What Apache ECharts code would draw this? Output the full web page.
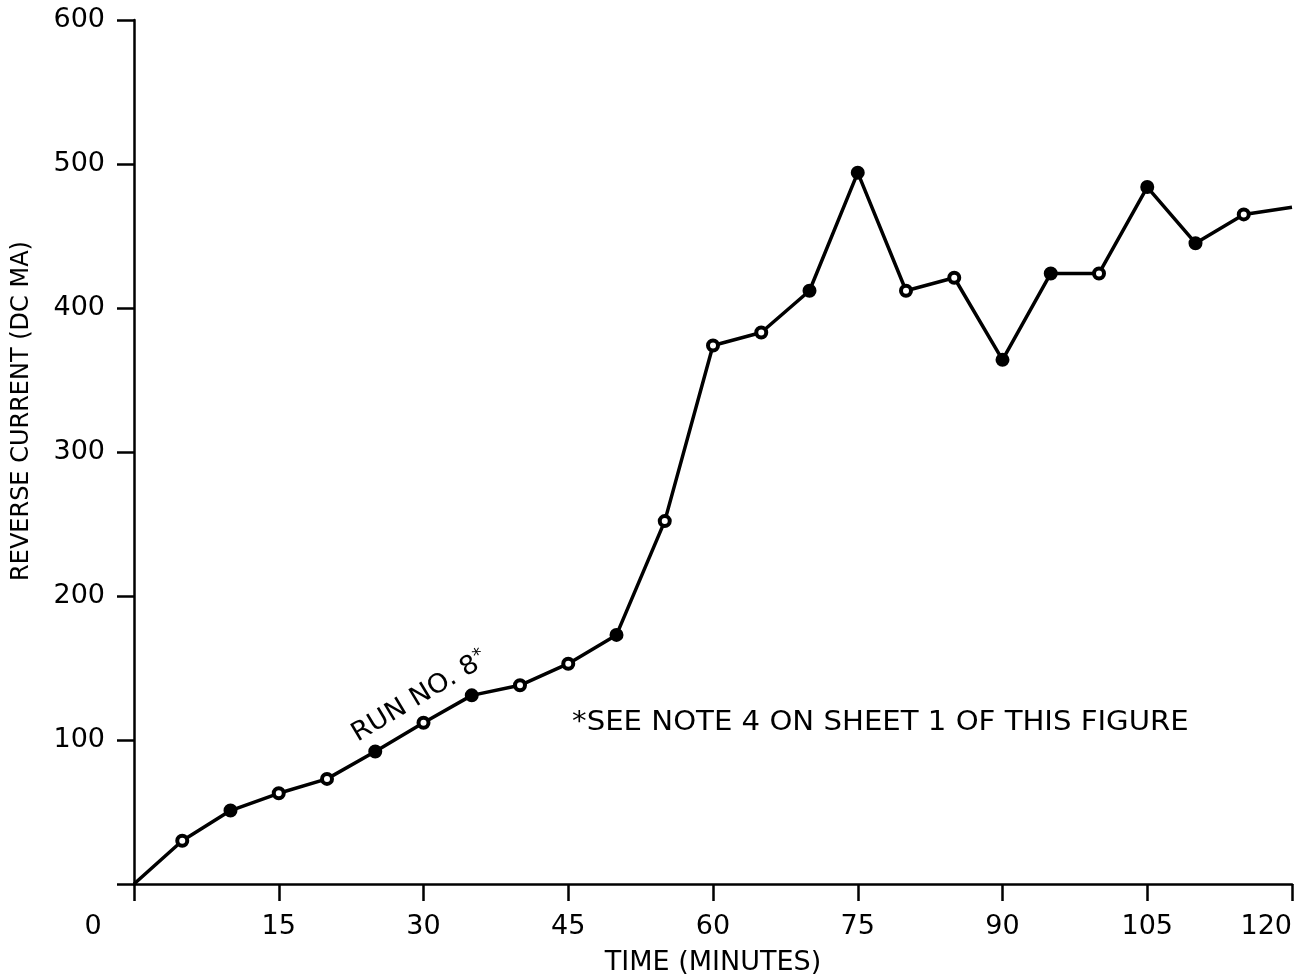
<!DOCTYPE html>
<html>
<head>
<meta charset="utf-8">
<title>Reverse current vs time — Run No. 8</title>
<script src="https://cdn.jsdelivr.net/npm/echarts@6/dist/echarts.min.js"></script>
<style>
  html, body { margin: 0; padding: 0; background: #ffffff; }
  #chart { width: 1301px; height: 979px; }
</style>
</head>
<body>
<div id="chart"></div>
<script>
// Run No. 8: reverse current (DC mA) sampled every 5 minutes
var timeMinutes = [0, 5, 10, 15, 20, 25, 30, 35, 40, 45, 50, 55, 60, 65, 70, 75, 80, 85, 90, 95, 100, 105, 110, 115, 120];
var reverseCurrent = [0, 30, 51, 63, 73, 92, 112, 131, 138, 153, 173, 252, 374, 383, 412, 494, 412, 421, 364, 424, 424, 484, 445, 465, 470];
// plotted marker at each reading: 'solid', 'open' or 'none'
var markerKind = ['none', 'open', 'solid', 'open', 'open', 'solid', 'open', 'solid', 'open', 'open', 'solid', 'open', 'open', 'open', 'solid', 'solid', 'open', 'open', 'solid', 'solid', 'open', 'solid', 'solid', 'open', 'none'];

var xTicks = [0, 15, 30, 45, 60, 75, 90, 105, 120];
var yTicks = [0, 100, 200, 300, 400, 500, 600];

var xTitle = 'TIME (MINUTES)';
var yTitle = 'REVERSE CURRENT (DC MA)';
var runLabel = 'RUN NO. 8';
var footNote = '*SEE NOTE 4 ON SHEET 1 OF THIS FIGURE';

var FONT = '"DejaVu Sans", "Liberation Sans", Arial, sans-serif';
var INK = '#000000';

var seriesData = timeMinutes.map(function (t, i) {
  var kind = markerKind[i];
  var item = { value: [t, reverseCurrent[i]] };
  if (kind === 'none') {
    item.symbol = 'none';
  } else {
    item.itemStyle = {
      color: kind === 'solid' ? INK : '#ffffff',
      borderColor: INK,
      borderWidth: 4
    };
  }
  return item;
});

var chart = echarts.init(document.getElementById('chart'), null, { renderer: 'canvas' });

var option = {
  backgroundColor: '#ffffff',
  animation: false,
  grid: { left: 134, top: 20, right: 9, bottom: 95, containLabel: false, outerBoundsMode: 'none' },
  xAxis: {
    type: 'value',
    min: xTicks[0],
    max: xTicks[xTicks.length - 1],
    interval: xTicks[1] - xTicks[0],
    name: xTitle,
    nameLocation: 'middle',
    nameGap: 65,
    nameTextStyle: { color: INK, fontFamily: FONT, fontSize: 27 },
    axisLine: { show: true, onZero: false, lineStyle: { color: INK, width: 2.5 } },
    axisTick: { show: true, inside: false, length: 17, lineStyle: { color: INK, width: 2.5 } },
    axisLabel: {
      color: INK, fontFamily: FONT, fontSize: 27, margin: 29,
      alignMaxLabel: 'right',
      formatter: function (v) { return v === 0 ? '' : String(v); }
    },
    splitLine: { show: false }
  },
  yAxis: {
    type: 'value',
    min: yTicks[0],
    max: yTicks[yTicks.length - 1],
    interval: yTicks[1] - yTicks[0],
    name: yTitle,
    nameLocation: 'middle',
    nameGap: 100,
    nameTextStyle: { color: INK, fontFamily: FONT, fontSize: 24, padding: [0, 0, 0, 82] },
    axisLine: { show: true, onZero: false, lineStyle: { color: INK, width: 2.5 } },
    axisTick: { show: true, inside: false, length: 17, lineStyle: { color: INK, width: 2.5 } },
    axisLabel: {
      color: INK, fontFamily: FONT, fontSize: 27, margin: 29,
      padding: [4, 0, 0, 0],
      formatter: function (v) { return v === 0 ? '' : String(v); }
    },
    splitLine: { show: false }
  },
  series: [{
    type: 'line',
    data: seriesData,
    symbol: 'circle',
    symbolSize: 10,
    showAllSymbol: true,
    lineStyle: { color: INK, width: 3.5 },
    itemStyle: { color: INK, borderColor: INK },
    emphasis: { disabled: true },
    z: 3
  }]
};

chart.setOption(option);

// Annotations placed in data space: shared origin "0", run label along the curve, footnote
function placeAnnotations() {
  var origin = chart.convertToPixel({ gridIndex: 0 }, [0, 0]);
  var runAt = chart.convertToPixel({ gridIndex: 0 }, [29.6, 130]);
  var noteAt = chart.convertToPixel({ gridIndex: 0 }, [45.4, 112]);
  chart.setOption({
    graphic: [
      {
        type: 'text',
        x: origin[0] - 41,
        y: origin[1] + 43,
        style: { text: '0', fill: INK, font: '27px ' + FONT, align: 'center', verticalAlign: 'middle' }
      },
      {
        type: 'text',
        x: runAt[0],
        y: runAt[1],
        rotation: 31 * Math.PI / 180,
        scaleX: 1.05,
        style: {
          text: '{a|' + runLabel + '}{s|*}',
          fill: INK,
          align: 'center',
          verticalAlign: 'middle',
          rich: {
            a: { fontFamily: FONT, fontSize: 26, fill: INK },
            s: { fontFamily: FONT, fontSize: 18, fill: INK, verticalAlign: 'top', padding: [0, 0, 10, 0] }
          }
        }
      },
      {
        type: 'text',
        x: noteAt[0],
        y: noteAt[1],
        scaleX: 1.08,
        style: { text: footNote, fill: INK, font: '27px ' + FONT, align: 'left', verticalAlign: 'middle' }
      }
    ]
  });
}
placeAnnotations();
</script>
</body>
</html>
